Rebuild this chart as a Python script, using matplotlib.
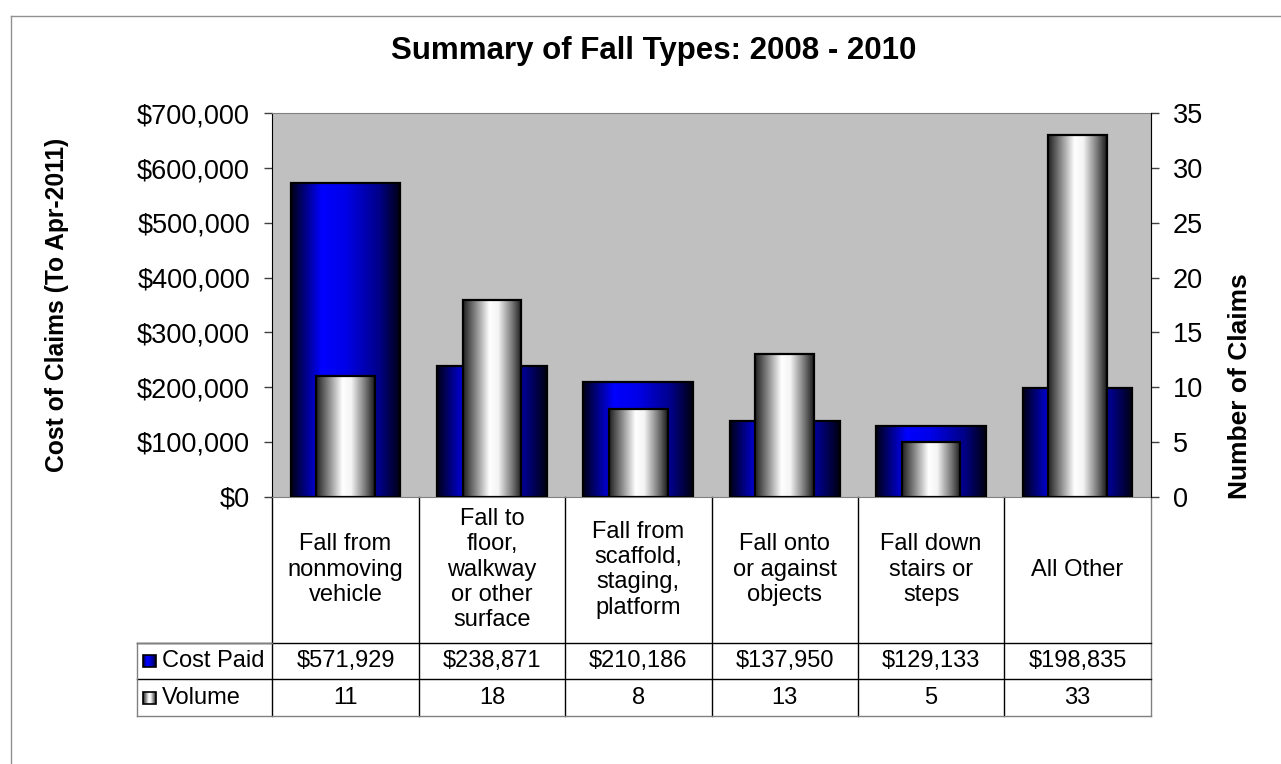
import numpy as np
import matplotlib
matplotlib.use("Agg")
import matplotlib.pyplot as plt
from matplotlib.colors import LinearSegmentedColormap
from matplotlib.lines import Line2D
from matplotlib.patches import Rectangle
from matplotlib.ticker import FuncFormatter, MultipleLocator

plt.rcParams['font.family'] = ['Liberation Sans', 'DejaVu Sans']

# Data
categories = ["Fall from\nnonmoving\nvehicle",
              "Fall to\nfloor,\nwalkway\nor other\nsurface",
              "Fall from\nscaffold,\nstaging,\nplatform",
              "Fall onto\nor against\nobjects",
              "Fall down\nstairs or\nsteps",
              "All Other"]
cost_paid = [571929, 238871, 210186, 137950, 129133, 198835]
volume = [11, 18, 8, 13, 5, 33]
cost_labels = ["$571,929", "$238,871", "$210,186", "$137,950", "$129,133", "$198,835"]

title = "Summary of Fall Types: 2008 - 2010"
left_label = "Cost of Claims (To Apr-2011)"
right_label = "Number of Claims"

# gradients like the old Excel cylinders
blue_cmap = LinearSegmentedColormap.from_list(
    "blue", [(0, "#000018"), (0.28, "#0000ff"), (0.5, "#0000e8"),
             (0.8, "#00008a"), (1, "#000010")])
grey_cmap = LinearSegmentedColormap.from_list(
    "grey", [(0, "#202020"), (0.22, "#8a8a8a"), (0.45, "#ffffff"),
             (0.6, "#f4f4f4"), (0.85, "#707070"), (1, "#1a1a1a")])
grad = np.linspace(0, 1, 256).reshape(1, -1)

fig = plt.figure(figsize=(12.81, 7.64), dpi=100)
ax = fig.add_axes([272.3 / 1281, 1 - 496.7 / 764, 878.4 / 1281, 383.4 / 764])
ax.set_facecolor("#c0c0c0")

x = np.arange(len(categories))

bars = ax.bar(x, cost_paid, width=0.75, facecolor="none",
              edgecolor="black", linewidth=1.6, zorder=3)
for b in bars:
    ax.imshow(grad, cmap=blue_cmap, aspect="auto", zorder=2,
              extent=[b.get_x(), b.get_x() + b.get_width(), 0, b.get_height()])

ax2 = ax.twinx()
bars2 = ax2.bar(x, volume, width=0.4, facecolor="none",
                edgecolor="black", linewidth=1.6, zorder=3)
for b in bars2:
    ax2.imshow(grad, cmap=grey_cmap, aspect="auto", zorder=2,
               extent=[b.get_x(), b.get_x() + b.get_width(), 0, b.get_height()])

ax.set_xlim(-0.5, 5.5)
ax.set_ylim(0, 700000)
ax2.set_ylim(0, 35)
ax.yaxis.set_major_locator(MultipleLocator(100000))
ax2.yaxis.set_major_locator(MultipleLocator(5))
ax.yaxis.set_major_formatter(FuncFormatter(lambda v, p: "${:,.0f}".format(v)))
ax.set_xticks([])

ax.tick_params(axis="y", direction="out", length=6, width=1, color="#404040",
               labelsize=19.5, pad=10)
ax2.tick_params(axis="y", direction="out", length=6, width=1, color="#404040",
                labelsize=19.5, pad=10)

for s in ["top", "bottom", "right"]:
    ax.spines[s].set_color("#808080")
ax.spines["left"].set_color("black")
for s in ["top", "bottom", "left"]:
    ax2.spines[s].set_visible(False)
ax2.spines["right"].set_color("black")

# title and axis titles
fig.text(0.51, 1 - 51 / 764, title, ha="center", va="center",
         fontsize=22.5, fontweight="bold")
fig.text(57 / 1281, 1 - 305 / 764, left_label, ha="center", va="center",
         rotation=90, fontsize=17.7, fontweight="bold")
fig.text(1240 / 1281, 1 - 386 / 764, right_label, ha="center", va="center",
         rotation=90, fontsize=19, fontweight="bold")

# data table underneath
tr = ax.get_xaxis_transform()
row1 = -0.3808
row2 = -0.4763
row3 = -0.572
lab_left = -1.426

def line(xs, ys, color="black"):
    ax.add_line(Line2D(xs, ys, transform=tr, color=color, lw=1, clip_on=False))

for i in range(len(categories) + 1):
    xx = i - 0.5
    line([xx, xx], [0, row3], "#808080" if i == len(categories) else "black")
line([lab_left, 5.5], [row1, row1])
line([lab_left, 5.5], [row2, row2])
line([lab_left, 5.5], [row3, row3], "#808080")
line([lab_left, lab_left], [row1, row3], "#808080")
line([lab_left, -0.5], [row1, row1], "#808080")

for i, c in enumerate(categories):
    ax.text(i, (0 + row1) / 2, c, transform=tr, ha="center", va="center",
            fontsize=17, linespacing=1.2)
    ax.text(i, (row1 + row2) / 2, cost_labels[i], transform=tr, ha="center",
            va="center", fontsize=17)
    ax.text(i, (row2 + row3) / 2, str(volume[i]), transform=tr, ha="center",
            va="center", fontsize=17)

# legend keys in the row headers
key_w = 0.085
key_h = 0.031
for (row_top, row_bot), label, cmap in [((row1, row2), "Cost Paid", blue_cmap),
                                        ((row2, row3), "Volume", grey_cmap)]:
    yc = (row_top + row_bot) / 2
    kx = lab_left + 0.045
    ax.imshow(grad, cmap=cmap, aspect="auto", transform=tr, zorder=5,
              extent=[kx, kx + key_w, yc - key_h / 2, yc + key_h / 2],
              clip_on=False)
    ax.add_patch(Rectangle((kx, yc - key_h / 2), key_w, key_h, transform=tr,
                           facecolor="none", edgecolor="black", lw=1.2,
                           clip_on=False, zorder=6))
    ax.text(kx + key_w + 0.045, yc, label, transform=tr, ha="left",
            va="center", fontsize=17)

ax.set_xlim(-0.5, 5.5)
ax.set_ylim(0, 700000)

# chart frame (only left and top edges show)
fig.add_artist(Line2D([11 / 1281, 11 / 1281], [0, 1 - 16 / 764],
                      transform=fig.transFigure, color="#909090", lw=1))
fig.add_artist(Line2D([11 / 1281, 1], [1 - 16 / 764, 1 - 16 / 764],
                      transform=fig.transFigure, color="#909090", lw=1))

fig.savefig("out.png", dpi=100)
